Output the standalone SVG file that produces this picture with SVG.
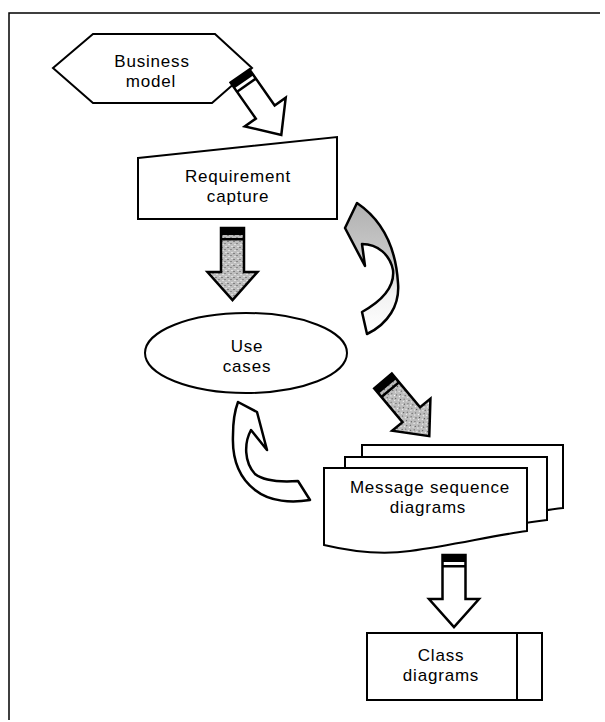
<svg xmlns="http://www.w3.org/2000/svg" width="605" height="722" viewBox="0 0 605 722">
<style>
.shape{fill:#fff;stroke:#000;stroke-width:2}
.lbl{font-family:"Liberation Sans",Arial,sans-serif;font-size:17px;letter-spacing:0.8px;fill:#000;text-anchor:middle}
.arr{stroke:#000;stroke-width:2.5;stroke-linejoin:miter}
.curl{stroke:#000;stroke-width:2.5;stroke-linejoin:round}
</style>
<defs>
<pattern id="stip" width="6" height="6" patternUnits="userSpaceOnUse">
<rect width="6" height="6" fill="#bdbdbd"/>
<rect x="1" y="1" width="1" height="1" fill="#444"/>
<rect x="4" y="3" width="1" height="1" fill="#555"/>
<rect x="2" y="4" width="1" height="1" fill="#fff"/>
<rect x="5" y="0" width="1" height="1" fill="#fff"/>
</pattern>
<linearGradient id="curlFill" x1="0" y1="0" x2="0" y2="1">
<stop offset="0" stop-color="#b0b0b0"/>
<stop offset="0.45" stop-color="#cccccc"/>
<stop offset="0.7" stop-color="#f2f2f2"/>
<stop offset="1" stop-color="#fff"/>
</linearGradient>
<g id="blockArrow">
<path class="arr" d="M-11.5,0 H11.5 V44 H25 L0,72 L-25,44 H-11.5 Z"/>
<rect x="-11.5" y="0" width="23" height="7" fill="#000"/>
<rect x="-11.5" y="10" width="23" height="2.5" fill="#000"/>
</g>
</defs>

<path d="M9,720 V13 H600" fill="none" stroke="#000" stroke-width="1.5"/>

<g id="business-model">
<polygon class="shape" points="53,68 93,34 215,34 252,68 212,103 93,103"/>
<text class="lbl" x="152" y="67">Business</text>
<text class="lbl" x="151" y="87">model</text>
</g>

<g id="requirement-capture">
<polygon class="shape" points="138,158 337,137 337,219 138,219"/>
<text class="lbl" x="238" y="182">Requirement</text>
<text class="lbl" x="238" y="202">capture</text>
</g>

<g id="use-cases">
<ellipse class="shape" cx="246" cy="353" rx="101" ry="40"/>
<text class="lbl" x="247" y="352">Use</text>
<text class="lbl" x="247" y="372">cases</text>
</g>

<g id="message-sequence-diagrams">
<path class="shape" d="M362,468 V445 H563 V508 C530,512 500,518 470,522 L362,530 Z"/>
<path class="shape" d="M345,480 V457 H547 V520 C520,523 500,528 470,532 L345,540 Z"/>
<path class="shape" d="M324,468 H527 V531 C490,536 455,545 410,551 C375,556 345,550 324,545 Z"/>
<text class="lbl" x="430" y="493">Message sequence</text>
<text class="lbl" x="428" y="513">diagrams</text>
</g>

<g id="class-diagrams">
<rect class="shape" x="367" y="633" width="175" height="67"/>
<line x1="517" y1="633" x2="517" y2="700" stroke="#000" stroke-width="2"/>
<text class="lbl" x="441" y="661">Class</text>
<text class="lbl" x="441" y="681">diagrams</text>
</g>

<g id="connectors">
<use href="#blockArrow" fill="#fff" transform="translate(240,76) rotate(-35)"/>
<use href="#blockArrow" fill="url(#stip)" transform="translate(232.5,228)"/>
<use href="#blockArrow" fill="url(#stip)" transform="translate(383,381) rotate(-40)"/>
<use href="#blockArrow" fill="#fff" transform="translate(454,555)"/>
<path class="curl" fill="url(#curlFill)" d="M357,203 L345,228 L365,266 L362,244 C378,244 390,255 393,270 C395,288 380,302 362,312 L367,334 C388,324 400,305 398,283 C396,250 385,222 357,203 Z"/>
<path class="curl" fill="#fff" d="M238,402 L257,412 L267,450 L251,430 C244,443 244,462 255,474 C265,482 283,482 298,481 L310,500 C292,503 270,502 255,490 C238,477 232,457 233,435 C233,420 235,410 238,402 Z"/>
</g>
</svg>
